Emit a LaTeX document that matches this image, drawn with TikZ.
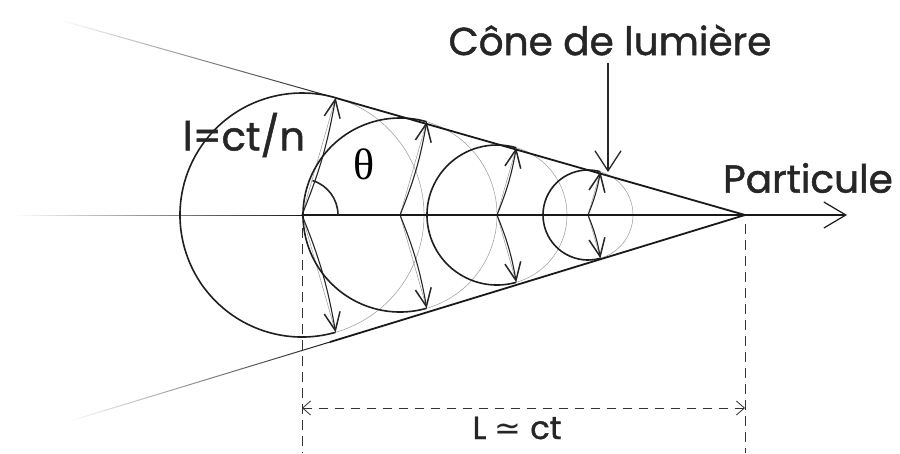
\documentclass[tikz,border=0pt]{standalone}
\usepackage{fontspec}
\newfontfamily\hand[FakeBold=1.2]{Poppins}
\newfontfamily\grk{Liberation Serif}
\newfontfamily\symf{DejaVu Sans}
\usetikzlibrary{arrows.meta,fadings,calc}
\begin{document}
\begin{tikzpicture}[x=1pt,y=-1pt,
  thickc/.style={line width=1.6pt, black!88},
  thinc/.style={line width=0.5pt, black!40},
  barb/.style={-{Straight Barb[length=18pt,width=16pt,line width=1.5pt]}},
  lbl/.style={font=\hand\fontsize{39}{42}\selectfont, inner sep=0pt, text=black!85},
  dashline/.style={line width=0.8pt, black!80, dash pattern=on 10pt off 6pt},
]
\useasboundingbox[fill=white] (0,0) rectangle (900,453);

\coordinate (A) at (745,215);
\coordinate (O) at (302,215);

% circles
\foreach \c/\r in {302/122,400/97,497/70,588/45}{
  \draw[thickc] (\c,215) ++(74:\r) arc[start angle=74, end angle=286, radius=\r];
  \draw[thinc] (\c,215) ++(-74:\r) arc[start angle=-74, end angle=74, radius=\r];
  \draw[thinc] (\c,215) -- ++(74:\r);
  \draw[thinc] (\c,215) -- ++(-74:\r);
  \draw[line width=1.1pt, black!85, barb] (\c,215) to[bend right=6] ($(\c,215)+(-74:\r)$);
  \draw[line width=1.1pt, black!85, barb] (\c,215) to[bend left=6] ($(\c,215)+(74:\r)$);
}

% cone lines
\coordinate (T1) at (336,98);
\coordinate (B1) at (330,342);
\coordinate (TE) at (60,20);
\coordinate (BE) at (70,421);
\draw[line width=1.8pt, black!90] (A) -- (T1);
\draw[line width=1.8pt, black!90] (A) -- (B1);
\draw[line width=1pt, black!90, path fading=west] (T1) -- (TE);
\draw[line width=1pt, black!90, path fading=west] (B1) -- (BE);

% axis
\coordinate (AX0) at (15,215);
\coordinate (AXE) at (847,215);
\draw[line width=1pt, black!90, path fading=west] (O) -- (AX0);
\draw[line width=2pt, black!90] (O) -- (A);
\draw[line width=1.4pt, black!90, -{Straight Barb[length=22pt,width=26pt,line width=1.2pt]}] (A) -- (AXE);

% angle
\draw[line width=1.6pt, black!85] (338,215) arc[start angle=0, end angle=-73, radius=36];
\node[font=\grk\fontsize{44}{46}\selectfont, inner sep=0pt] (th) at (364,164) {θ};

% dashed dimension
\coordinate (D1) at (302,228);
\coordinate (D2) at (745,224);
\coordinate (D1b) at (302,453);
\coordinate (D2b) at (745,453);
\draw[dashline] (D1) -- (D1b);
\draw[dashline] (D2) -- (D2b);
\coordinate (L1) at (302,408);
\coordinate (L2) at (745,408);
\draw[line width=0.8pt, black!80, dash pattern=on 9pt off 7pt,
  {Straight Barb[length=8pt,width=14pt,line width=0.8pt]}-{Straight Barb[length=8pt,width=14pt,line width=0.8pt]}] (L1) -- (L2);
\node[lbl, font=\hand\fontsize{32}{34}\selectfont] (Lct) at (517,428) {L {\symf ≃} ct};

% labels
\node[lbl] (cone) at (610,40) {Cône de lumière};
\coordinate (P1) at (608,63);
\coordinate (P2) at (608,172);
\draw[line width=1.1pt, black!85, -{Straight Barb[length=20pt,width=26pt,line width=1.3pt]}] (P1) -- (P2);
\node[lbl] (part) at (808,178) {Particule};
\node[lbl, font=\hand\fontsize{40}{42}\selectfont] (lct) at (244,135) {l=ct/n};
\end{tikzpicture}
\end{document}
